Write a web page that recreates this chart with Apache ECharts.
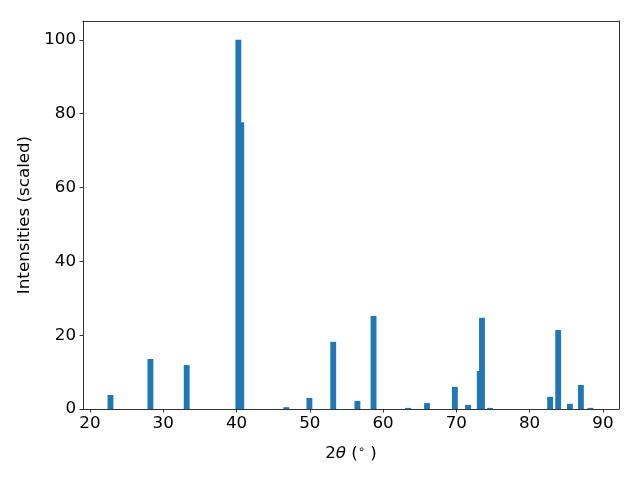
<!DOCTYPE html>
<html><head><meta charset="utf-8">
<script src="https://cdn.jsdelivr.net/npm/echarts@6/dist/echarts.min.js"></script>
<style>html,body{margin:0;padding:0;background:#fff}#c{width:640px;height:480px}</style>
</head><body><div id="c"></div>
<script>
const positions = [22.8, 28.25, 33.2, 40.25, 40.65, 46.8, 49.95, 53.2, 56.5, 58.7, 63.4, 66.0, 69.8, 71.6, 73.2, 73.5, 74.6, 82.8, 83.9, 85.5, 87.0, 88.3];
const intensities = [3.8, 13.55, 11.9, 100, 77.7, 0.5, 3.0, 18.2, 2.2, 25.2, 0.3, 1.6, 6.0, 1.1, 10.3, 24.7, 0.3, 3.3, 21.4, 1.4, 6.5, 0.3];
const xTicks = [20, 30, 40, 50, 60, 70, 80, 90];
const yTicks = [0, 20, 40, 60, 80, 100];
const barWidth = 0.8;

const FONT = 'DejaVu Sans';
const FS = 16.7;
const chart = echarts.init(document.getElementById('c'), null, {renderer: 'canvas'});
const data = positions.map((p, i) => [p, intensities[i]]);
const xMin = 19.05, xMax = 92.2, yMin = 0, yMax = 105.1;
const lineStyle = {color: '#000', width: 0.8};
chart.setOption({
  animation: false,
  backgroundColor: '#fff',
  grid: {left: 83, right: 21, top: 21, bottom: 71, containLabel: false},
  xAxis: [{
    type: 'value', min: xMin, max: xMax, position: 'bottom',
    axisLine: {show: true, onZero: false, lineStyle},
    axisTick: {show: true, inside: false, length: 3.5, lineStyle, customValues: xTicks},
    axisLabel: {show: true, margin: 6, color: '#000', fontFamily: FONT, fontSize: FS, customValues: xTicks},
    splitLine: {show: false},
    name: '{n|2}{i|θ}{n| (}{s|∘}{n| )}',
    nameLocation: 'middle', nameGap: 35,
    nameTextStyle: {rich: {
      n: {fontFamily: FONT, fontSize: FS, color: '#000'},
      i: {fontFamily: FONT, fontSize: FS, fontStyle: 'italic', color: '#000'},
      s: {fontFamily: FONT, fontSize: 11.5, color: '#000', verticalAlign: 'top', padding: [0, 0, 7, 0]}
    }}
  }, {
    type: 'value', min: xMin, max: xMax, position: 'top',
    axisLine: {show: true, onZero: false, lineStyle},
    axisTick: {show: false}, axisLabel: {show: false}, splitLine: {show: false}
  }],
  yAxis: [{
    type: 'value', min: yMin, max: yMax, position: 'left',
    axisLine: {show: true, onZero: false, lineStyle},
    axisTick: {show: true, inside: false, length: 3.5, lineStyle, customValues: yTicks},
    axisLabel: {show: true, margin: 7, color: '#000', fontFamily: FONT, fontSize: FS, customValues: yTicks},
    splitLine: {show: false},
    name: 'Intensities (scaled)', nameLocation: 'middle', nameGap: 48,
    nameTextStyle: {fontFamily: FONT, fontSize: FS, color: '#000'}
  }, {
    type: 'value', min: yMin, max: yMax, position: 'right',
    axisLine: {show: true, onZero: false, lineStyle},
    axisTick: {show: false}, axisLabel: {show: false}, splitLine: {show: false}
  }],
  series: [{
    type: 'custom',
    xAxisIndex: 0, yAxisIndex: 0,
    data: data,
    renderItem: function (params, api) {
      const x = api.value(0), y = api.value(1);
      const p0 = api.coord([x - barWidth / 2, y]);
      const p1 = api.coord([x + barWidth / 2, 0]);
      return {
        type: 'rect',
        shape: {x: p0[0], y: p0[1], width: p1[0] - p0[0], height: p1[1] - p0[1]},
        style: {fill: '#1f77b4'}
      };
    },
    encode: {x: 0, y: 1}
  }]
});
</script></body></html>
